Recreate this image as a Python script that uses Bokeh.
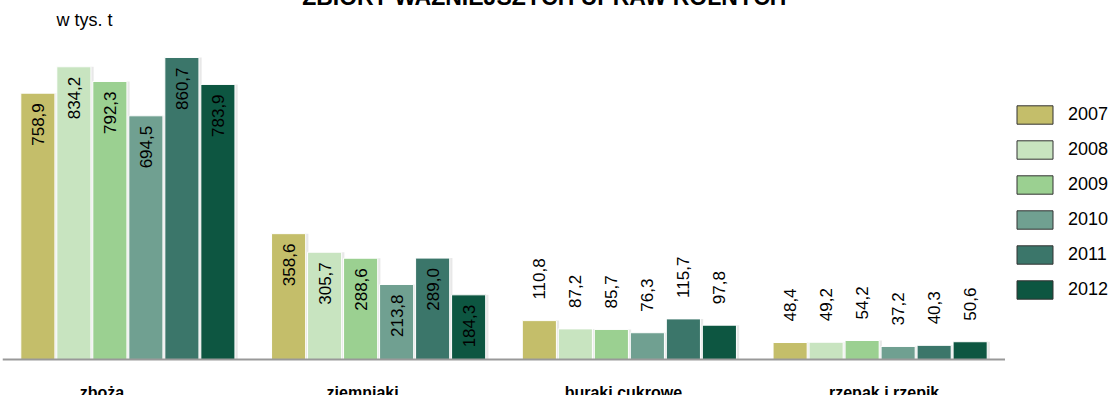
from bokeh.plotting import figure
from bokeh.layouts import row
from bokeh.models import ColumnDataSource, FactorRange, Range1d, Legend, LegendItem, Label, Span
from bokeh.transform import dodge
from bokeh.core.properties import value
from bokeh.embed import file_html
from bokeh.resources import INLINE

# ---- data ----
categories = ["zboża", "ziemniaki", "buraki cukrowe", "rzepak i rzepik"]
years = ["2007", "2008", "2009", "2010", "2011", "2012"]
v2007 = [758.9, 358.6, 110.8, 48.4]
v2008 = [834.2, 305.7, 87.2, 49.2]
v2009 = [792.3, 288.6, 85.7, 54.2]
v2010 = [694.5, 213.8, 76.3, 37.2]
v2011 = [860.7, 289.0, 115.7, 40.3]
v2012 = [783.9, 184.3, 97.8, 50.6]
series = [v2007, v2008, v2009, v2010, v2011, v2012]
colors = ["#C4BE6A", "#C8E4C0", "#9BD091", "#70A091", "#3B766A", "#0D5641"]
title_text = "ZBIORY WAŻNIEJSZYCH UPRAW ROLNYCH"
unit_text = "w tys. t"

# ---- layout (canvas pixels; the row is lifted into the top page margin) ----
H = 403
LEFT = 2
W_MAIN, W_LEG = 1005, 106
FRAME_W = W_MAIN - LEFT
CAT_PX = FRAME_W / len(categories)   # pixels per category slot
BASE_Y = 367            # canvas y of the baseline
SCALE = 0.3509          # pixels per 1 thous. t
px = 1.0 / SCALE        # data units per pixel
FONT = value("Liberation Sans")

def ydata(canvas_y):
    return (BASE_Y - canvas_y) * px

p = figure(x_range=FactorRange(*categories, range_padding=0),
           y_range=Range1d(ydata(H), ydata(0)), width=W_MAIN, height=H,
           min_border_top=0, min_border_bottom=0, min_border_left=LEFT, min_border_right=0,
           toolbar_location=None, output_backend="svg", title=None)
p.outline_line_color = None
p.xgrid.visible = False
p.ygrid.visible = False
p.xaxis.visible = False
p.yaxis.visible = False

step = 0.1436
bw = 0.136
for i, (yr, vals, col) in enumerate(zip(years, series, colors)):
    off = (i - 2.5) * step
    txt = [f"{x:.1f}".replace(".", ",") for x in vals]
    src = ColumnDataSource(dict(cat=categories, v=vals))
    # soft shadow
    p.vbar(x=dodge("cat", off + 0.006, range=p.x_range), top="v", width=bw + 0.01,
           source=src, fill_color="#000000", fill_alpha=0.09, line_color=None)
    p.vbar(x=dodge("cat", off, range=p.x_range), top="v", width=bw, source=src,
           fill_color=col, line_color="white", line_width=1)
    inside = [x > 150 for x in vals]
    in_src = ColumnDataSource(dict(
        cat=[c for c, f in zip(categories, inside) if f],
        y=[x - 10 * px for x, f in zip(vals, inside) if f],
        txt=[t for t, f in zip(txt, inside) if f]))
    out_src = ColumnDataSource(dict(
        cat=[c for c, f in zip(categories, inside) if not f],
        y=[x + 21 * px for x, f in zip(vals, inside) if not f],
        txt=[t for t, f in zip(txt, inside) if not f]))
    p.text(x=dodge("cat", off, range=p.x_range), y="y", text="txt", source=in_src,
           angle=1.5707963, text_align="right", text_baseline="middle",
           text_font=FONT, text_font_size="17px", text_color="#000000")
    p.text(x=dodge("cat", off, range=p.x_range), y="y", text="txt", source=out_src,
           angle=1.5707963, text_align="left", text_baseline="middle",
           text_font=FONT, text_font_size="17px", text_color="#000000")

# baseline (category axis line)
p.add_layout(Span(location=0, dimension="width", line_color="#999999", line_width=2))

# category labels (label pitch slightly wider than the bar groups, as in the original)
LABEL_SHIFT0, LABEL_DRIFT = -26, 10
cat_x = [(c, (LABEL_SHIFT0 + k * LABEL_DRIFT) / CAT_PX) for k, c in enumerate(categories)]
cat_src = ColumnDataSource(dict(x=cat_x, y=[ydata(400)] * len(categories), t=categories))
p.text(x="x", y="y", text="t", source=cat_src, text_align="center",
       text_baseline="alphabetic", text_font=FONT, text_font_size="16px",
       text_font_style="bold", text_color="#000000")

p.add_layout(Label(x=54, y=ydata(27), x_units="screen", text=unit_text,
                   text_font="Liberation Sans", text_font_size="18px",
                   text_baseline="alphabetic", text_align="left", text_color="#000000"))
p.add_layout(Label(x=542, y=ydata(4), x_units="screen", text=title_text,
                   text_font="Liberation Sans", text_font_size="23px", text_font_style="bold",
                   text_baseline="alphabetic", text_align="center", text_color="#000000"))

# ---- legend panel ----
q = figure(x_range=Range1d(0, 1), y_range=Range1d(0, 1), width=W_LEG, height=H,
           min_border=0, toolbar_location=None, output_backend="svg", title=None)
q.outline_line_color = None
q.xgrid.visible = False
q.ygrid.visible = False
q.xaxis.visible = False
q.yaxis.visible = False
items = []
for yr, col in zip(years, colors):
    # swatch renderer (its single bar lies outside the visible range)
    r = q.vbar(x=[5], top=[6], bottom=[5], width=0.1, fill_color=col,
               line_color="#333333", line_width=1)
    items.append(LegendItem(label=yr, renderers=[r]))
legend = Legend(items=items, location=(7, 94), glyph_width=45, glyph_height=23,
                label_height=23, spacing=12, label_standoff=11, padding=0, margin=0,
                label_text_font="Liberation Sans", label_text_font_size="18px",
                label_text_color="#000000",
                border_line_color=None, background_fill_alpha=0)
q.add_layout(legend)

layout = row(p, q, spacing=0)
layout.styles = {"margin-top": "-8px"}
open("out.html", "w").write(file_html(layout, INLINE))
